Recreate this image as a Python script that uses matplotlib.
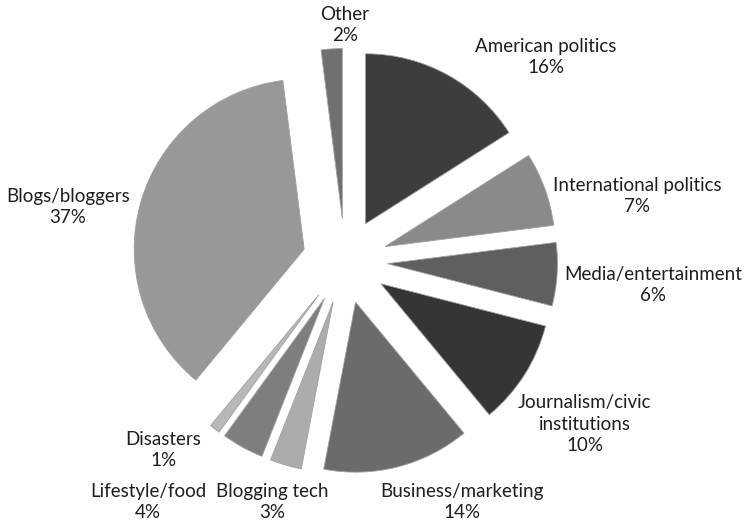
import matplotlib
matplotlib.use("Agg")
import matplotlib.pyplot as plt

# share of posts by topic (percent), clockwise from 12 o'clock
topics = ["American politics", "International politics", "Media/entertainment",
          "Journalism/civic\ninstitutions", "Business/marketing", "Blogging tech",
          "Lifestyle/food", "Disasters", "Blogs/bloggers", "Other"]
shares = [16, 7, 6, 10, 14, 3, 4, 1, 37, 2]
grays = ["#3d3d3d", "#8a8a8a", "#5f5f5f", "#353535", "#6b6b6b",
         "#acacac", "#7e7e7e", "#b8b8b8", "#989898", "#707070"]

# where each label block sits (pixels from top-left of the figure)
label_pos = [(546, 57), (637, 196), (653, 285), (585, 424), (462, 502),
             (272, 502), (148, 502), (163, 450), (68, 207), (345, 25)]

W, H = 746, 520
cx, cy, r = 345, 261, 170  # pie centre and radius in pixels

fig = plt.figure(figsize=(W / 100, H / 100), dpi=100)
ax = fig.add_axes([0, 0, 1, 1])

ax.pie(shares, colors=grays, startangle=90, counterclock=False,
       explode=[0.25] * len(shares), radius=1, center=(0, 0),
       wedgeprops=dict(edgecolor="#a0a0a0", linewidth=0.6), frame=True)
ax.set_xlim(-cx / r, (W - cx) / r)
ax.set_ylim(-(H - cy) / r, cy / r)
ax.set_aspect("equal")
ax.axis("off")

for name, val, (px, py) in zip(topics, shares, label_pos):
    fig.text(px / W, 1 - py / H, f"{name}\n{val}%", ha="center", va="center",
             fontsize=13.5, family="Lato", color="#1e1e1e", linespacing=1.35)

fig.savefig("out.png", dpi=100)
